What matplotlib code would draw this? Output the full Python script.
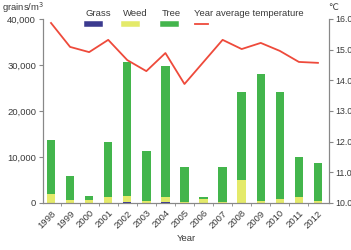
import numpy as np
import matplotlib
matplotlib.use("Agg")
import matplotlib.pyplot as plt
from matplotlib.lines import Line2D

plt.rcParams['font.family'] = ['Liberation Sans', 'DejaVu Sans']
plt.rcParams['font.size'] = 6.8

years = ["1998", "1999", "2000", "2001", "2002", "2003", "2004", "2005",
         "2006", "2007", "2008", "2009", "2010", "2011", "2012"]
grass = [100, 80, 60, 100, 120, 80, 300, 60, 60, 60, 100, 80, 80, 80, 60]
weed = [1900, 650, 650, 1100, 1400, 350, 900, 50, 850, 150, 4900, 350, 850, 1200, 350]
total = [13700, 5900, 1500, 13200, 30600, 11300, 29800, 7800,
         1300, 7800, 24100, 28000, 24100, 9900, 8800]
temp = [15.87, 15.09, 14.92, 15.32, 14.66, 14.30, 14.89, 13.88,
        14.60, 15.32, 15.02, 15.22, 14.96, 14.60, 14.57]

c_grass = "#3b3a8f"
c_weed = "#e4ea6a"
c_tree = "#43b54c"
c_line = "#ee4a3b"
c_axis = "#888888"
c_text = "#3a3a3a"

grass = np.array(grass)
weed = np.array(weed)
tree = np.array(total) - grass - weed
x = np.arange(len(years))

fig = plt.figure(figsize=(3.51, 2.5), dpi=100)
ax = fig.add_axes([43 / 351, 47 / 250, 286 / 351, 184 / 250])

w = 0.44
ax.bar(x, grass, w, color=c_grass, zorder=2)
ax.bar(x, weed, w, bottom=grass, color=c_weed, zorder=2)
ax.bar(x, tree, w, bottom=grass + weed, color=c_tree, zorder=2)

ax.set_xlim(-0.42, len(years) - 0.42)
ax.set_ylim(0, 40000)
ax.set_yticks([0, 10000, 20000, 30000, 40000])
ax.set_yticklabels(["0", "10,000", "20,000", "30,000", "40,000"])
ax.set_xticks(x)
ax.set_xticklabels(years, rotation=45, ha="right", rotation_mode="anchor")
ax.set_xticks(x[:-1] + 0.5, minor=True)
ax.tick_params(axis="x", which="major", length=0, pad=4, colors=c_text)
ax.tick_params(axis="x", which="minor", length=2, color=c_axis)
ax.tick_params(axis="y", length=3, color=c_axis, colors=c_text, pad=2)
ax.set_xlabel("Year", color=c_text, labelpad=3)

ax.spines["top"].set_visible(False)
for s in ["left", "right", "bottom"]:
    ax.spines[s].set_color(c_axis)
    ax.spines[s].set_linewidth(0.8)

ax2 = ax.twinx()
ax2.plot(x, temp, color=c_line, lw=1.3, zorder=3)
ax2.set_ylim(10, 16)
ax2.set_yticks(np.arange(10, 16.5, 1))
ax2.set_yticklabels([f"{v:.1f}" for v in np.arange(10, 16.5, 1)], fontsize=6.3)
ax2.tick_params(axis="y", length=3, color=c_axis, colors=c_text, pad=1.5)
ax2.spines["top"].set_visible(False)
for s in ["left", "right", "bottom"]:
    ax2.spines[s].set_color(c_axis)
    ax2.spines[s].set_linewidth(0.8)

fig.text(2 / 351, 1 - 8 / 250, "grains/m$^3$", color=c_text, va="center", ha="left")
fig.text(333 / 351, 1 - 7 / 250, "℃", color=c_text, va="center", ha="center",
         family=['DejaVu Sans'], fontsize=6.3)

# legend: labels above short swatches
leg = [("Grass", c_grass, 4), ("Weed", c_weed, 4), ("Tree", c_tree, 4),
       ("Year average temperature", c_line, 1.3)]
xs = [86, 123, 162, 194]
for (lab, col, lw), xp in zip(leg, xs):
    fig.text(xp / 351, 1 - 14 / 250, lab, color=c_text, va="center", ha="left")
    fig.add_artist(Line2D([(xp + 1) / 351, (xp + 14) / 351],
                          [1 - 24 / 250, 1 - 24 / 250],
                          color=col, lw=lw, transform=fig.transFigure))

fig.savefig("out.png", dpi=100)
